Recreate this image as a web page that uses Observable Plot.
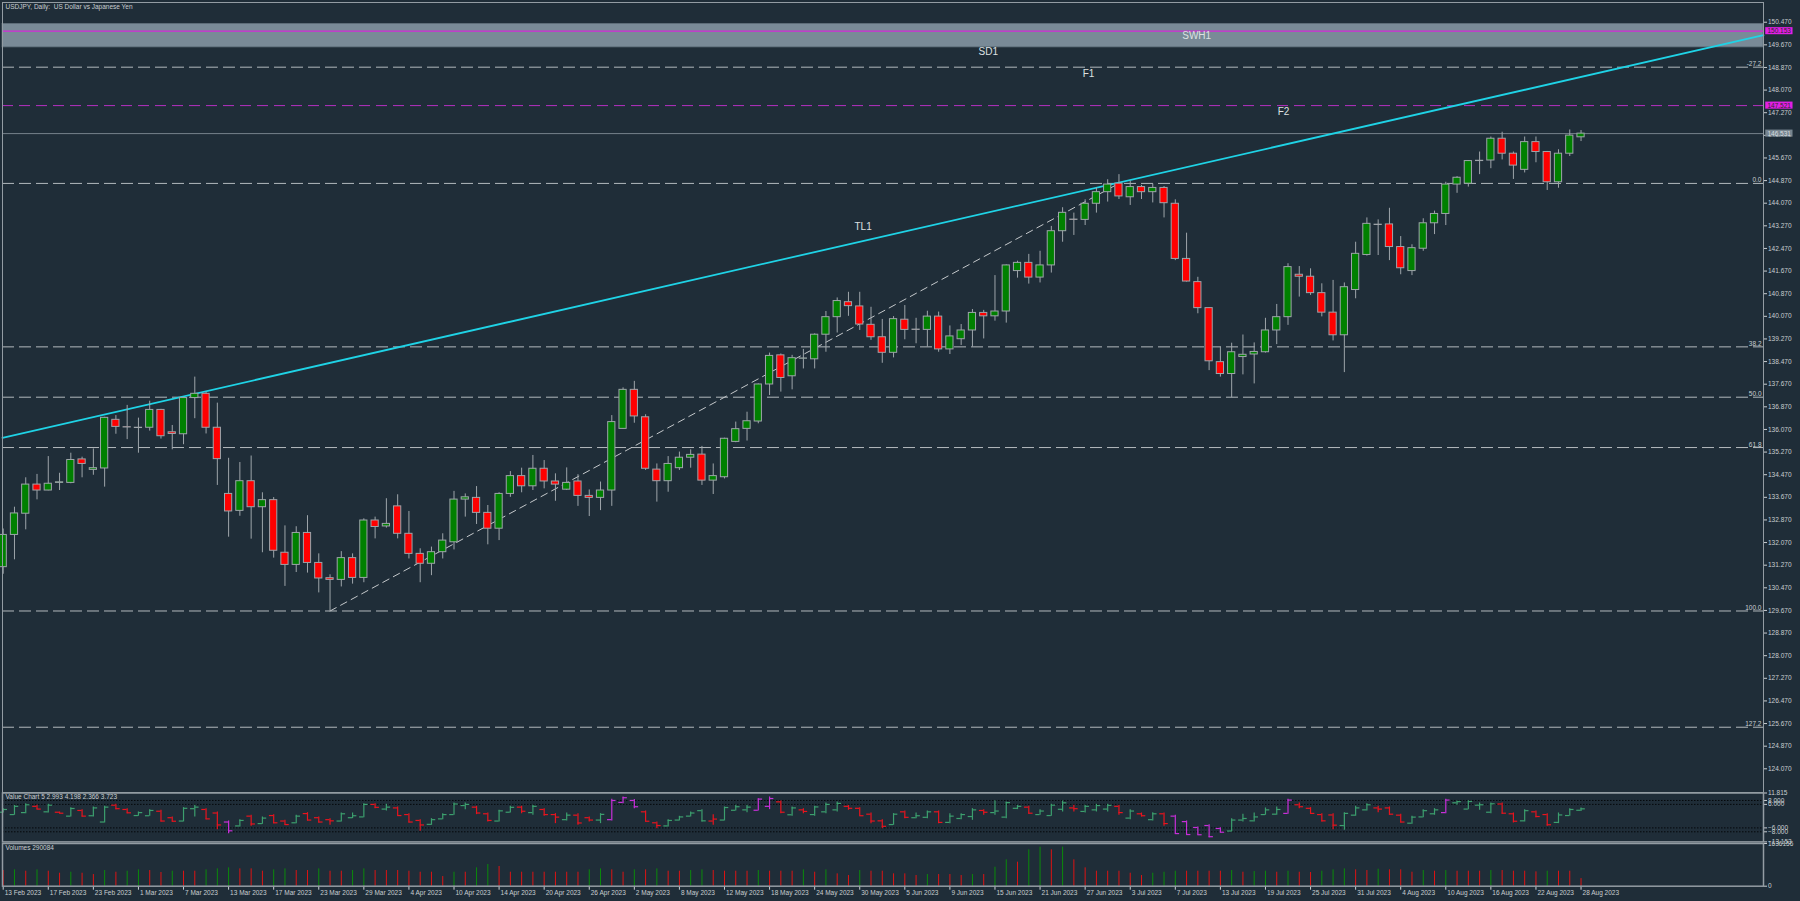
<!DOCTYPE html>
<html><head><meta charset="utf-8">
<script src="https://cdn.jsdelivr.net/npm/d3@7"></script>
<script src="https://cdn.jsdelivr.net/npm/@observablehq/plot@0.6"></script>
<style>
html,body{margin:0;padding:0;background:#1f2d38;}
#wrap{position:relative;width:1800px;height:901px;overflow:hidden;background:#1f2d38;}
#wrap svg{position:absolute;left:0;display:block;}
</style></head><body><div id="wrap"></div>
<script>
// ---------- DATA (USDJPY daily, 13 Feb 2023 .. 28 Aug 2023, bar index 0..140) ----------
const opens = [131.20,132.34,133.09,134.12,133.91,134.18,134.18,135.01,134.64,134.69,
136.41,136.15,136.13,136.13,136.76,135.97,135.90,137.18,137.33,136.13,
133.79,133.19,134.24,133.32,133.57,131.71,131.28,132.41,131.35,130.81,
130.75,131.52,130.82,132.85,132.64,133.35,132.38,131.67,131.32,131.73,
132.08,133.59,133.65,133.12,132.56,133.79,134.42,134.06,134.68,134.23,
133.94,134.23,133.72,133.65,133.91,136.09,137.47,136.50,134.65,134.24,
134.70,135.07,135.18,134.26,134.38,135.63,136.09,136.35,137.66,138.69,
137.95,138.57,138.55,139.42,140.04,140.57,140.42,139.77,139.33,138.78,
139.95,139.60,139.59,140.06,138.90,139.26,139.57,140.19,140.07,140.24,
141.67,141.96,141.44,141.87,143.08,143.49,143.48,144.05,144.46,144.76,
144.28,144.64,144.46,144.61,144.05,142.10,141.28,140.36,138.45,138.03,
138.63,138.72,138.80,139.57,140.04,141.54,141.47,140.89,140.20,139.40,
141.00,142.24,143.31,143.32,142.52,141.67,142.46,143.36,143.69,144.73,
144.76,145.56,145.58,146.35,145.82,145.25,146.23,145.88,144.81,145.82,146.40];
const highs = [132.55,133.32,134.36,134.48,135.11,134.52,135.23,135.09,135.38,136.50,
136.56,136.92,136.47,137.07,136.78,136.21,137.21,137.92,137.39,137.00,
135.05,134.90,135.13,133.83,133.66,132.66,132.63,133.02,131.67,130.93,
131.75,131.67,132.91,132.97,133.62,133.76,133.17,131.85,131.91,132.38,
133.88,133.79,134.05,133.38,133.83,134.58,134.70,135.15,134.97,134.50,
134.71,134.47,133.93,134.21,136.56,137.54,137.77,136.59,134.85,135.11,
135.27,135.35,135.47,134.85,135.76,136.33,136.68,137.68,138.77,138.74,
138.69,138.90,139.45,140.24,140.72,140.92,140.92,140.39,139.96,140.06,
140.45,140.00,140.25,140.22,139.73,139.78,140.31,140.28,141.51,141.89,
142.02,142.26,142.37,143.25,143.91,143.72,144.19,144.61,144.90,145.08,
144.85,144.70,144.75,144.66,144.19,143.01,141.45,140.37,138.98,139.12,
139.41,139.13,140.00,140.49,141.93,141.83,141.75,141.22,141.34,141.25,
142.69,143.55,143.48,143.89,142.89,142.60,143.52,143.79,144.81,145.01,
145.58,145.88,146.41,146.58,145.88,146.41,146.41,145.90,145.96,146.66,146.64];
const lows = [130.95,131.46,132.52,133.58,133.90,133.91,134.15,134.36,134.45,134.03,
135.90,135.71,135.23,136.01,135.73,135.35,135.53,136.45,135.91,134.09,
132.26,133.00,132.19,131.71,131.52,130.52,131.01,130.99,130.29,129.64,
130.50,130.60,130.65,132.20,132.58,132.20,131.49,130.65,130.90,131.49,
131.81,132.97,132.71,131.99,132.14,133.67,133.83,133.91,133.97,133.53,
133.91,133.35,132.99,133.20,133.35,136.09,136.29,134.62,133.50,133.85,
134.62,134.70,134.09,133.77,134.32,135.60,135.66,136.27,137.27,137.39,
137.47,138.21,138.21,138.80,139.48,140.07,139.57,139.22,138.41,138.60,
139.24,139.10,138.98,138.80,138.72,139.04,138.98,139.27,139.90,139.83,
141.42,141.21,141.25,141.60,142.69,142.93,143.28,143.72,144.11,144.20,
143.99,144.20,144.08,143.55,142.04,141.28,140.16,138.15,137.92,137.19,
138.00,137.68,138.77,139.07,139.75,140.75,140.81,140.05,139.20,138.08,
140.69,142.20,142.22,142.04,141.54,141.51,142.37,142.96,143.28,144.42,
144.64,145.08,145.29,145.60,144.91,145.14,145.50,144.52,144.60,145.72,146.25];
const closes = [132.34,133.10,134.12,133.91,134.15,134.20,134.99,134.85,134.70,136.48,
136.16,136.14,136.12,136.76,135.83,135.91,137.18,137.33,136.13,135.02,
133.17,134.24,133.32,133.57,131.78,131.28,132.41,131.35,130.80,130.75,
131.52,130.82,132.85,132.62,132.73,132.38,131.67,131.32,131.73,132.14,
133.59,133.67,133.12,132.56,133.79,134.42,134.06,134.68,134.23,134.12,
134.18,133.72,133.65,133.91,136.33,137.47,136.53,134.68,134.24,134.85,
135.07,135.17,134.26,134.42,135.74,136.08,136.36,137.66,138.67,137.89,
138.59,138.58,139.42,140.04,140.61,140.43,139.78,139.33,138.78,139.97,
139.59,139.59,140.06,138.90,139.36,139.57,140.19,140.07,140.24,141.87,
141.96,141.44,141.87,143.08,143.73,143.48,144.05,144.46,144.73,144.31,
144.64,144.46,144.61,144.07,142.10,141.30,140.36,138.48,138.03,138.80,
138.71,138.81,139.57,140.04,141.81,141.47,140.89,140.20,139.40,141.10,
142.28,143.34,143.30,142.52,141.77,142.48,143.36,143.69,144.73,144.97,
145.56,145.57,146.35,145.82,145.40,146.23,145.88,144.81,145.82,146.46,146.53];

// Value Chart 5 (OHLC in value units) and its colour as read (g / r / m)
const vOpen = [2.0,0.8,1.8,5.0,2.2,2.0,0.0,2.9,0.2,-3.0, 5.6,3.4,0.3,0.2,2.5,-0.8,-2.5,3.8,3.4,1.6,
-3.0,-5.0,0.0,-3.8,0.3,-2.5,-3.4,1.3,-0.8,-1.8, -2.5,-0.8,-0.4,6.0,3.6,4.2,0.8,-2.2,-4.2,-1.4,
0.8,5.4,4.6,1.2,-2.5,2.0,4.6,1.8,3.4,0.8, -1.8,0.5,-0.8,-2.0,-1.8,7.0,8.0,2.2,-3.4,-5.0,
-2.0,0.0,2.8,-2.5,-2.0,3.0,3.2,3.0,5.0,7.3, 0.7,3.2,0.8,2.2,3.2,5.0,4.0,1.0,-2.4,-4.3,
2.2,-0.8,-0.6,2.2,-3.2,-1.2,-0.2,2.9,1.8,-0.5, 4.0,4.6,0.8,0.3,3.5,4.2,2.4,3.2,3.6,5.0,
-1.0,1.2,-1.8,1.2,0.0,-2.8,-5.8,-4.8,-6.3,-7.6, -2.0,-2.4,0.8,1.0,1.4,5.8,4.0,0.8,0.6,-4.8,
0.5,3.2,4.2,4.2,0.5,-3.6,-0.4,1.2,1.8,6.8, 3.6,5.6,2.0,6.2,1.2,-2.4,2.2,0.8,-3.2,0.3,2.993];
const vHigh = [3.83,5.53,6.38,5.53,6.04,2.13,4.34,3.32,4.68,5.02, 6.04,3.83,2.13,3.32,2.98,-0.43,4.34,5.53,3.83,2.13,
-2.47,-1.79,0.43,-0.43,0.77,-2.13,0.43,1.79,-0.43,-1.28, 1.62,1.62,6.38,6.38,6.04,4.68,1.28,-1.79,-1.28,1.28,
6.72,6.72,5.02,1.62,2.98,5.02,5.02,5.53,3.83,1.28, 1.62,1.28,-0.43,1.28,8.6,9.79,8.5,2.64,-2.98,-1.79,
-0.09,2.13,3.32,0.77,4.68,5.53,5.53,8.94,9.79,7.74, 4.68,3.83,5.02,6.72,7.23,5.53,4.34,1.62,-1.79,1.28,
2.64,1.62,2.64,2.64,1.28,1.28,3.83,3.32,7.9,7.23, 5.53,5.02,3.32,6.04,7.74,5.53,5.53,6.04,6.04,5.53,
3.32,1.62,1.79,1.62,0.43,-2.47,-5.53,-4.34,-5.87,-1.28, 0.94,1.62,4.17,4.68,8.6,6.72,4.34,1.28,1.28,1.79,
5.02,6.38,5.02,4.68,0.94,-0.09,3.32,3.83,8.6,7.74, 7.9,6.72,6.72,6.72,1.62,3.32,2.64,1.28,1.62,3.83,4.198];
const vLow = [1.62,0.43,1.28,3.32,1.62,1.28,-0.43,-0.43,-0.43,-3.49, 3.32,1.28,-0.09,-0.09,-2.98,-2.98,-2.98,-0.43,-1.79,-6.89,
-8.94,-5.53,-5.19,-4.17,-3.83,-4.68,-3.83,-2.47,-3.49,-4.68, -2.98,-1.28,-0.77,3.83,2.64,-0.09,-3.49,-7.74,-4.68,-1.79,
0.43,3.32,0.77,-2.98,-2.98,1.62,1.28,0.43,-0.09,-3.83, -2.47,-4.68,-2.98,-3.83,-2.47,6.38,3.83,-2.98,-6.38,-5.53,
-2.47,-0.43,-2.98,-4.68,-2.47,2.64,1.79,2.64,3.32,1.28, -0.09,1.28,-0.09,1.28,2.13,2.98,-0.09,-3.83,-6.38,-4.68,
-1.28,-1.28,-1.28,-3.83,-3.83,-1.79,-2.13,0.43,0.43,-1.28, 3.32,0.94,0.43,-0.09,2.13,2.13,1.62,2.13,2.13,0.43,
-1.79,-0.43,-2.47,-5.19,-9.28,-9.79,-9.79,-10.98,-8.60,-8.09, -2.98,-2.98,0.43,0.43,0.94,3.83,0.94,-2.98,-6.89,-7.23,
-0.09,2.64,1.79,0.43,-3.49,-4.17,-0.77,0.43,1.28,5.53, 3.32,2.98,1.28,0.94,-3.49,-2.98,-0.77,-5.19,-3.83,-0.09,2.366];
const vClose = [3.4,5.0,5.8,3.6,5.6,1.5,3.9,0.0,4.2,4.6, 3.8,1.7,1.8,2.9,-2.5,-2.6,4.0,4.6,-1.4,-4.5,
-7.5,-2.2,-4.0,-1.0,-3.4,-4.3,0.0,-2.0,-3.0,-2.4, 1.2,0.2,6.0,4.5,4.6,0.3,-3.0,-4.5,-1.8,0.8,
6.2,6.0,1.6,-2.2,2.7,4.5,2.5,5.0,0.8,-0.5, 0.5,-3.5,-2.0,0.9,8.0,9.4,4.8,-2.6,-4.8,-2.2,
-0.4,1.6,-2.4,-1.5,4.4,4.8,4.6,8.7,9.0,2.0, 4.2,2.4,4.7,6.0,6.5,4.0,0.2,-2.5,-5.2,1.0,
-0.6,0.2,2.2,-3.2,0.0,0.8,3.2,2.0,2.6,6.9, 5.0,1.5,2.6,5.6,6.8,3.8,5.0,5.4,5.5,1.8,
2.6,0.2,1.2,-3.8,-8.9,-9.4,-9.5,-10.5,-8.2,-2.0, -1.2,-0.4,3.2,3.4,8.2,4.8,1.4,-2.4,-4.6,1.4,
4.2,5.8,3.6,1.0,-3.0,-0.5,2.8,3.2,8.2,7.4, 7.5,5.8,6.3,1.5,-2.6,2.8,-0.2,-4.4,0.6,3.4,3.723];
const vColour = ["gggrgrgrgg","rrggrrggrr","mgrgrrgrrr","gggrgrrrgg","ggrrggrgrr",
"grrgmmmrrg","gggrgggmmr","grgggrrrrg","rggrgggrgg","grgggrgggr",
"grgrmmmmmg","ggggmrrrrg","ggrrrgggmg","gggrrgrrgg","g"].join("").split("");

// Volumes
const volumes = [600000,626000,575000,626000,575000,498000,536000,498000,447000,600000,
536000,575000,626000,600000,524000,575000,575000,575000,626000,664000,
703000,664000,664000,575000,626000,664000,600000,600000,664000,575000,
575000,600000,664000,600000,600000,600000,575000,536000,536000,370000,
536000,536000,703000,831000,755000,536000,536000,536000,536000,536000,
536000,536000,626000,664000,626000,536000,626000,626000,664000,575000,
575000,600000,626000,600000,575000,575000,575000,600000,575000,575000,
575000,626000,536000,626000,473000,409000,600000,575000,575000,473000,
473000,409000,447000,447000,447000,409000,447000,447000,728000,1010000,
921000,1393000,1496000,1393000,1496000,1010000,703000,575000,575000,575000,
498000,409000,498000,536000,575000,575000,575000,575000,575000,600000,
536000,562000,575000,536000,575000,536000,524000,575000,626000,664000,
626000,600000,651000,626000,626000,536000,600000,575000,600000,575000,
575000,575000,600000,600000,575000,575000,549000,575000,575000,575000,290084];

// Date labels (every 4th bar)
const dateLabels = ["13 Feb 2023","17 Feb 2023","23 Feb 2023","1 Mar 2023","7 Mar 2023","13 Mar 2023",
"17 Mar 2023","23 Mar 2023","29 Mar 2023","4 Apr 2023","10 Apr 2023","14 Apr 2023","20 Apr 2023",
"26 Apr 2023","2 May 2023","8 May 2023","12 May 2023","18 May 2023","24 May 2023","30 May 2023",
"5 Jun 2023","9 Jun 2023","15 Jun 2023","21 Jun 2023","27 Jun 2023","3 Jul 2023","7 Jul 2023",
"13 Jul 2023","19 Jul 2023","25 Jul 2023","31 Jul 2023","4 Aug 2023","10 Aug 2023","16 Aug 2023",
"22 Aug 2023","28 Aug 2023"];

// Price axis ticks
const priceTicks = [150.47,149.67,148.87,148.07,147.27,146.47,145.67,144.87,144.07,143.27,142.47,
141.67,140.87,140.07,139.27,138.47,137.67,136.87,136.07,135.27,134.47,133.67,132.87,132.07,
131.27,130.47,129.67,128.87,128.07,127.27,126.47,125.67,124.87,124.07];
const valueTicks = [11.815, 8, 6, -6, -8, -13.153];
const valueLevels = [8, 6, -6, -8];
const volumeTicks = [0, 1636156];

// Fibonacci retracement levels (0 = 144.77, 100 = 129.65)
const fibNames = ["-27.2","0.0","38.2","50.0","61.8","100.0","127.2"];
const fibPrices = [148.88,144.77,138.99,137.21,135.43,129.65,125.54];
const fibDiagonal = [{i:29,p:129.65},{i:99,p:144.77}];

// Trend line TL1 anchors
const tlAnchors = [{i:17,p:137.33},{i:99,p:144.80}];

// Horizontal objects
const swhZone = [{lo:149.58, hi:150.41}];
const swhLine = 150.153, f2Line = 147.521, bidLine = 146.531;

// Object labels
const objLabels = [
  {t:"SWH1", i:105.9, p:149.98},
  {t:"SD1",  i:87.4,  p:149.41},
  {t:"F1",   i:96.3,  p:148.64},
  {t:"F2",   i:113.6, p:147.30},
  {t:"TL1",  i:76.3,  p:143.24}
];
const title = "USDJPY, Daily:  US Dollar vs Japanese Yen";

// ---------- CHART ----------
const TXT = "#c9cdd1", FRAME = "#939ca3";
const FONT = "'Liberation Sans', Arial, sans-serif";
const xDom = [-0.062, 156.19];
const yDom = [123.232, 151.167];
const wrap = document.getElementById("wrap");

const bars = opens.map((o,i)=>({i, o, h:highs[i], l:lows[i], c:closes[i]}));
const fib = fibNames.map((n,k)=>({label:n, p:fibPrices[k]}));
const slope = (tlAnchors[1].p - tlAnchors[0].p)/(tlAnchors[1].i - tlAnchors[0].i);
const tlPts = xDom.map(x => ({i:x, p: tlAnchors[0].p + slope*(x - tlAnchors[0].i)}));
const tags = [
  {p:swhLine, fill:"#e21fe4", col:"#2a2a2a"},
  {p:f2Line, fill:"#e21fe4", col:"#2a2a2a"},
  {p:bidLine, fill:"#76858f", col:"#d8dde0"}
].map(d => ({...d, t: d3.format(".3f")(d.p)}));

const baseStyle = {background:"transparent", color:TXT, fontFamily:FONT, fontSize:"6.5px", overflow:"visible"};

const main = Plot.plot({
  width:1800, height:792,
  marginLeft:2, marginRight:37, marginTop:2, marginBottom:0,
  style: baseStyle,
  x:{domain:xDom, axis:null},
  y:{domain:yDom, axis:"right", ticks:priceTicks, tickFormat:d3.format(".3f"), tickSize:3, tickPadding:1.5, label:null},
  marks:[
    Plot.rect(swhZone, {x1:()=>xDom[0], x2:()=>xDom[1], y1:"lo", y2:"hi", fill:"#798a97", stroke:"#5f6f7b", strokeWidth:0.8}),
    Plot.ruleY([swhLine], {stroke:"#d428d8", strokeWidth:1.2}),
    Plot.ruleY(fib, {y:"p", stroke:"#b3b9bd", strokeWidth:1, strokeDasharray:"12,5"}),
    Plot.text(fib, {y:"p", text:"label", frameAnchor:"right", textAnchor:"end", lineAnchor:"bottom", dx:-2, dy:-1, fill:TXT, fontSize:6.5}),
    Plot.ruleY([f2Line], {stroke:"#b530c2", strokeWidth:1, strokeDasharray:"11,6"}),
    Plot.ruleY([bidLine], {stroke:"#75828c", strokeWidth:1}),
    Plot.line(fibDiagonal, {x:"i", y:"p", stroke:"#c4c8cb", strokeWidth:1, strokeDasharray:"7,5"}),
    Plot.line(tlPts, {x:"i", y:"p", stroke:"#1fd3e6", strokeWidth:1.8}),
    Plot.ruleX(bars, {x:"i", y1:"l", y2:"h", stroke:"#9ea5aa", strokeWidth:1}),
    Plot.rect(bars, {x1:d=>d.i-0.32, x2:d=>d.i+0.32, y1:"o", y2:"c",
      fill:d=> d.c>d.o ? "#008000" : "#ff0000", stroke:"#9ea5aa", strokeWidth:1}),
    Plot.text(objLabels, {x:"i", y:"p", text:"t", fill:"#dde0e2", fontSize:10}),
    Plot.rect(tags, {x1:()=>xDom[1]+0.2, x2:()=>xDom[1]+2.62, y1:d=>d.p-0.125, y2:d=>d.p+0.125, fill:"fill"}),
    Plot.text(tags, {x:()=>xDom[1]+0.35, y:"p", text:"t", textAnchor:"start", fill:"col", fontSize:6.5}),
    Plot.text([title], {text:d=>d, frameAnchor:"top-left", textAnchor:"start", lineAnchor:"top", dx:3, dy:2, fill:TXT, fontSize:6.5}),
    Plot.frame({stroke:FRAME, strokeWidth:1})
  ]
});
main.style.top = "0px";
wrap.appendChild(main);

// Value chart panel
const vbars = vOpen.map((o,i)=>({i, o, h:vHigh[i], l:vLow[i], c:vClose[i], k:vColour[i]}));
const vc = {g:"#3c9f6e", r:"#e8141e", m:"#c72fd8"};
const valuePanel = Plot.plot({
  width:1800, height:50,
  marginLeft:2, marginRight:37, marginTop:0.5, marginBottom:0.6,
  style: baseStyle,
  x:{domain:xDom, axis:null},
  y:{domain:[-13.153, 11.815], axis:"right", ticks:valueTicks, tickFormat:d3.format(".3f"), tickSize:3, tickPadding:1.5, label:null},
  marks:[
    Plot.ruleY(valueLevels, {stroke:"#05080b", strokeWidth:1, strokeDasharray:"1.5,1.5"}),
    Plot.ruleX(vbars, {x:"i", y1:"l", y2:"h", stroke:d=>vc[d.k], strokeWidth:1.2}),
    Plot.ruleY(vbars, {x1:d=>d.i-0.38, x2:"i", y:"o", stroke:d=>vc[d.k], strokeWidth:1.2}),
    Plot.ruleY(vbars, {x1:"i", x2:d=>d.i+0.38, y:"c", stroke:d=>vc[d.k], strokeWidth:1.2}),
    Plot.text(["Value Chart 5 2.993 4.198 2.366 3.723"], {text:d=>d, frameAnchor:"top-left", textAnchor:"start", lineAnchor:"top", dx:3, dy:1.5, fill:TXT, fontSize:6.5}),
    Plot.frame({stroke:FRAME, strokeWidth:1.5})
  ]
});
valuePanel.style.top = "792px";
wrap.appendChild(valuePanel);

// Volume panel + date axis
const vols = volumes.map((v,i)=>({i, v, up: i>0 && v>volumes[i-1]}));
const dates = dateLabels.map((t,k)=>({i:k*4, t}));
const volPanel = Plot.plot({
  width:1800, height:59,
  marginLeft:2, marginRight:37, marginTop:1, marginBottom:15.3,
  style: baseStyle,
  x:{domain:xDom, axis:"bottom", ticks:dates.map(d=>d.i), tickFormat:()=>"", tickSize:4, label:null},
  y:{domain:[0, 1636156], axis:"right", ticks:volumeTicks, tickFormat:d=>String(d), tickSize:3, tickPadding:1.5, label:null},
  marks:[
    Plot.ruleX(vols, {x:"i", y1:0, y2:"v", stroke:d=>d.up ? "#0b8a0b" : "#dc1414", strokeWidth:1}),
    Plot.text(["Volumes 290084"], {text:d=>d, frameAnchor:"top-left", textAnchor:"start", lineAnchor:"top", dx:3, dy:2, fill:TXT, fontSize:6.5}),
    Plot.text(dates, {x:"i", text:"t", frameAnchor:"bottom", textAnchor:"start", lineAnchor:"top", dx:1.5, dy:4, fill:TXT, fontSize:6.5}),
    Plot.frame({stroke:FRAME, strokeWidth:1.5})
  ]
});
volPanel.style.top = "842px";
wrap.appendChild(volPanel);
</script>
</body></html>
